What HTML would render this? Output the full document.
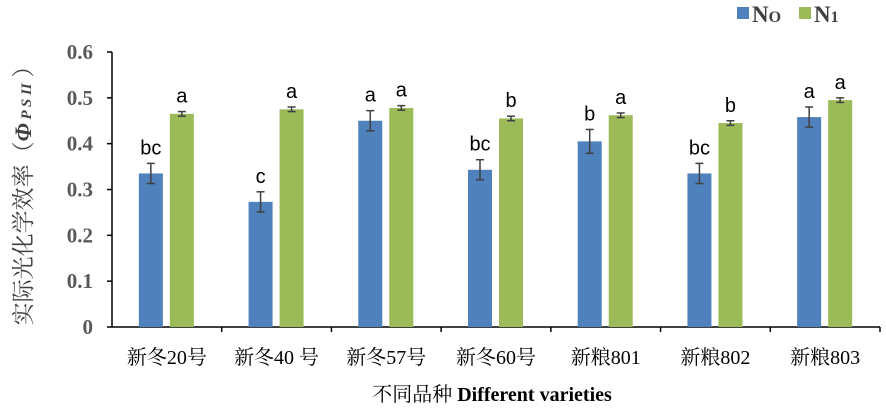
<!DOCTYPE html>
<html><head><meta charset="utf-8"><style>
body{margin:0;background:#fff;width:886px;height:409px;overflow:hidden}
svg{display:block;font-family:"Liberation Serif","Noto Serif CJK SC",serif}
</style></head><body>
<svg id="chart" width="886" height="409" viewBox="0 0 886 409">
<g id="axes"></g><g id="bars"></g>
<g>
<rect x="737" y="7" width="12" height="12" fill="#4f81bd"/>
<text x="752" y="22" font-size="23" font-weight="bold" fill="#404040">N<tspan font-size="16">O</tspan></text>
<rect x="799" y="7" width="12" height="12" fill="#9bbb59"/>
<text x="814" y="22" font-size="23" font-weight="bold" fill="#404040">N<tspan font-size="16">1</tspan></text>
</g>
<text transform="translate(31,190) rotate(-90)" text-anchor="middle" font-size="23" fill="#404040">实际光化学效率（<tspan font-style="italic" font-weight="bold">Φ</tspan><tspan font-style="italic" font-size="15" font-weight="bold"> P S II</tspan> ）</text>
<text x="492" y="401" text-anchor="middle" font-size="20" fill="#000">不同品种 <tspan font-weight="bold">Different varieties</tspan></text>
</svg>
<script>
const categories=["新冬20号","新冬40 号","新冬57号","新冬60号","新粮801","新粮802","新粮803"];
const n0Values=[0.335,0.273,0.45,0.343,0.405,0.335,0.458];
const n1Values=[0.465,0.475,0.478,0.455,0.462,0.445,0.495];
const n0Errors=[0.022,0.022,0.022,0.022,0.026,0.022,0.022];
const n1Errors=[0.005,0.005,0.005,0.005,0.005,0.005,0.005];
const n0Letters=["bc","c","a","bc","b","bc","a"];
const n1Letters=["a","a","a","b","a","b","a"];
const yTicks=[0,0.1,0.2,0.3,0.4,0.5,0.6];
const NS="http://www.w3.org/2000/svg";
const x0=112,x1=880,yTop=52,yBot=327,yMax=0.6;
const y=v=>yBot-(v/yMax)*(yBot-yTop);
const gw=(x1-x0)/categories.length;
const gx=i=>x0+gw*(i+0.5);
function mk(t,a,p){const e=document.createElementNS(NS,t);for(const k in a)e.setAttribute(k,a[k]);p.appendChild(e);return e;}
const ax=document.getElementById('axes'),bg=document.getElementById('bars');
let l=mk('line',{x1:x0,y1:yTop,x2:x0,y2:yBot,stroke:'#000','stroke-width':1.5},ax);


l=mk('line',{x1:x0,y1:yBot,x2:x1,y2:yBot,stroke:'#000','stroke-width':1.5},ax);


yTicks.forEach(v=>{
 const t=mk('line',{x1:x0-5,y1:y(v),x2:x0,y2:y(v),stroke:'#000','stroke-width':1.5},ax);
 
 
 const tx=mk('text',{x:93,y:y(v)+7,'text-anchor':'end','font-size':21,'font-weight':'bold',fill:'#595959'},ax);
 
 
 tx.textContent=String(v);
});
categories.forEach((c,i)=>{
 const t=mk('line',{x1:x0+gw*(i+1),y1:yBot,x2:x0+gw*(i+1),y2:yBot+5,stroke:'#000','stroke-width':1.5},ax);
 
 
 const tx=mk('text',{x:gx(i),y:364,'text-anchor':'middle','font-size':20,fill:'#000'},ax);
 
 
 tx.textContent=c;
 [[n0Values,n0Errors,n0Letters,-16,'#4f81bd','n0'],[n1Values,n1Errors,n1Letters,15,'#9bbb59','n1']].forEach(([vals,errs,lets,off,col,nm])=>{
  const cx=gx(i)+off,v=vals[i],e=errs[i];
  const r=mk('rect',{x:cx-12,y:y(v),width:24,height:yBot-y(v),fill:col},bg);
  
  
  const g=mk('g',{stroke:'#404040','stroke-width':1.5},bg);
  
  
  mk('line',{x1:cx,y1:y(v+e),x2:cx,y2:y(v-e)},g);
  mk('line',{x1:cx-4,y1:y(v+e),x2:cx+4,y2:y(v+e)},g);
  mk('line',{x1:cx-4,y1:y(v-e),x2:cx+4,y2:y(v-e)},g);
  const lt=mk('text',{x:cx,y:y(v+e)-9,'text-anchor':'middle','font-size':20,'font-family':'Liberation Sans, sans-serif',fill:'#000'},bg);
  
  
  lt.textContent=lets[i];
 });
});
</script>
</body></html>
